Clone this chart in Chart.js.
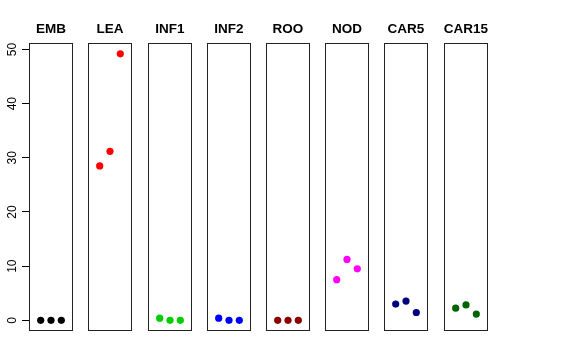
<!DOCTYPE html>
<html>
<head>
<meta charset="utf-8">
<script src="https://cdn.jsdelivr.net/npm/chart.js@4"></script>
<style>
    body { margin: 0; background: #fff; }
    #wrap { position: relative; width: 576px; height: 360px; overflow: hidden; }
    #wrap canvas { position: absolute; top: 0; }
</style>
</head>
<body>
<div id="wrap"></div>
<script>
// panel names and the values of the three replicates in each
const tissues = ['EMB', 'LEA', 'INF1', 'INF2', 'ROO', 'NOD', 'CAR5', 'CAR15'];
const replicates = [1, 2, 3];
const emb = [0, 0, 0];
const lea = [28.5, 31.2, 49.2];
const inf1 = [0.4, 0, 0];
const inf2 = [0.4, 0, 0];
const roo = [0, 0, 0];
const nod = [7.5, 11.25, 9.5];
const car5 = [3.0, 3.55, 1.45];
const car15 = [2.25, 2.85, 1.15];
const yTicks = [0, 10, 20, 30, 40, 50];
const colours = ['#000000', '#ff0000', '#00cd00', '#0000ff', '#8b0000', '#ff00ff', '#000080', '#006400'];

const allValues = [emb, lea, inf1, inf2, roo, nod, car5, car15];

Chart.defaults.font.family = '"Liberation Sans", Arial, sans-serif';
Chart.defaults.color = '#000';

// draw the box round each panel
const boxPlugin = {
    id: 'box',
    afterDraw(chart) {
        const a = chart.chartArea;
        const c = chart.ctx;
        c.save();
        c.strokeStyle = '#222';
        c.lineWidth = 1;
        const l = Math.round(a.left) + 0.5, t = Math.round(a.top) + 0.5;
        const r = Math.round(a.right) - 0.5, b = Math.round(a.bottom) - 0.5;
        c.strokeRect(l, t, r - l, b - t);
        c.restore();
    }
};

const panelStart = 29;
const panelStep = 59.2;
const panelWidth = 44.5;
const canvasWidth = 102;
const side = (canvasWidth - panelWidth) / 2;
const areaTop = 43;
const areaBottom = 29;
const yMin = -1.97, yMax = 51.2;

const wrap = document.getElementById('wrap');

function addCanvas(left, width) {
    const cv = document.createElement('canvas');
    cv.style.left = left + 'px';
    cv.style.width = width + 'px';
    cv.style.height = '360px';
    cv.width = width;
    cv.height = 360;
    wrap.appendChild(cv);
    return cv.getContext('2d');
}

// shared y axis, drawn by its own chart on the left
new Chart(addCanvas(0, 30), {
    type: 'scatter',
    data: { datasets: [{ data: [] }] },
    options: {
        responsive: false,
        animation: false,
        events: [],
        layout: { padding: { left: 0, right: 0, top: areaTop, bottom: areaBottom } },
        scales: {
            x: { type: 'linear', min: 0, max: 1, display: false },
            y: {
                type: 'linear',
                min: yMin,
                max: yMax,
                afterFit: function (scale) { scale.width = panelStart; },
                border: { display: false },
                grid: { drawOnChartArea: false, tickLength: 7, color: '#000' },
                ticks: {
                    stepSize: 10,
                    includeBounds: false,
                    minRotation: 90,
                    maxRotation: 90,
                    crossAlign: 'center',
                    padding: 3,
                    font: { size: 12 },
                    callback: function (v) { return yTicks.includes(v) ? String(v) : null; }
                }
            }
        },
        plugins: { legend: { display: false }, tooltip: { enabled: false } }
    }
});

tissues.forEach(function (name, i) {
    const left = panelStart + i * panelStep + panelWidth / 2 - canvasWidth / 2;
    new Chart(addCanvas(left, canvasWidth), {
        type: 'scatter',
        data: {
            datasets: [{
                data: replicates.map((x, k) => ({ x: x, y: allValues[i][k] })),
                backgroundColor: colours[i],
                borderWidth: 0,
                pointRadius: 3.6,
                pointHoverRadius: 3.6
            }]
        },
        options: {
            responsive: false,
            animation: false,
            events: [],
            layout: {
                padding: { left: side, right: side, top: 0, bottom: areaBottom }
            },
            scales: {
                x: { type: 'linear', min: -0.16, max: 4.16, display: false },
                y: { type: 'linear', min: yMin, max: yMax, display: false }
            },
            plugins: {
                legend: { display: false },
                tooltip: { enabled: false },
                title: {
                    display: true,
                    text: name,
                    font: { size: 13.5, weight: 'bold' },
                    padding: { top: 21.2, bottom: 5.6 }
                }
            }
        },
        plugins: [boxPlugin]
    });
});
</script>
</body>
</html>
